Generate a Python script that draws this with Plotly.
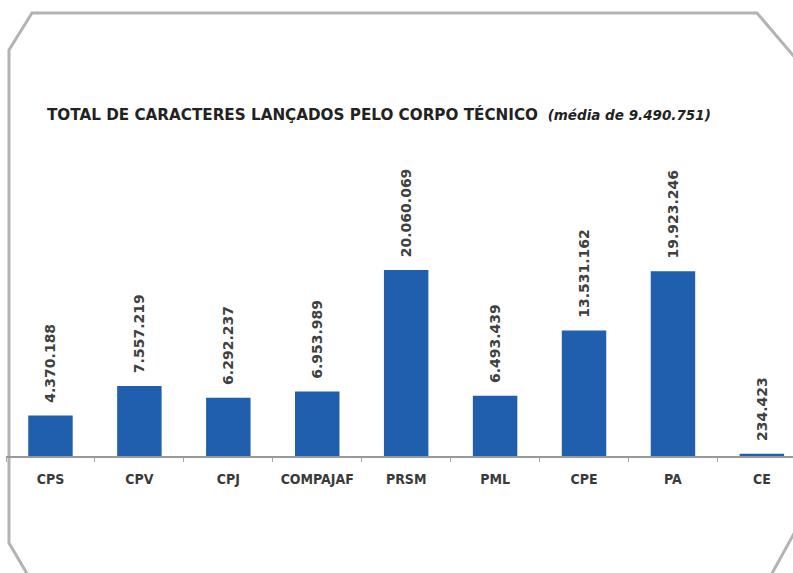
import plotly.graph_objects as go

categories = ["CPS", "CPV", "CPJ", "COMPAJAF", "PRSM", "PML", "CPE", "PA", "CE"]
values = [4370188, 7557219, 6292237, 6953989, 20060069, 6493439, 13531162, 19923246, 234423]
media = 9490751

W, H = 793, 573
ML, MR, MT, MB = 6, 0, 150, 117
PW, PH = W - ML - MR, H - MT - MB


def fmt(v):
    return f"{v:,}".replace(",", ".")


def px(x, y):
    # pixel position -> paper coordinates
    return (x - ML) / PW, (H - MB - y) / PH


fig = go.Figure()
fig.add_trace(go.Bar(
    x=categories, y=values,
    marker=dict(color="#1f5fad", line=dict(width=0)),
    text=["  " + fmt(v) for v in values],
    textposition="outside",
    textangle=-90,
    constraintext="none",
    textfont=dict(family="DejaVu Sans", size=14, color="#404040", weight="bold"),
    cliponaxis=False,
))

# octagonal frame around the chart (right and bottom sides run off the page)
pts = [(32, 13), (757, 13), (797, 60), (797, 528), (770, 577),
       (29, 577), (9, 543), (9, 50)]
path = ""
for i, (x, y) in enumerate(pts):
    a, b = px(x, y)
    path += ("M" if i == 0 else "L") + f"{a:.5f},{b:.5f} "
path += "Z"
fig.add_shape(type="path", path=path, xref="paper", yref="paper",
              line=dict(color="#b3b3b3", width=3), layer="below")

title = ("<b>TOTAL DE CARACTERES LANÇADOS PELO CORPO TÉCNICO</b>  "
         f"<b><i><span style='font-size:13.5px'>(média de {fmt(media)})</span></i></b>")

fig.update_layout(
    width=W, height=H,
    margin=dict(l=ML, r=MR, t=MT, b=MB),
    paper_bgcolor="white", plot_bgcolor="white",
    showlegend=False,
    bargap=0.5,
    title=dict(text=title, x=47 / W, xanchor="left", y=1 - 115 / H, yanchor="middle",
               font=dict(family="DejaVu Sans", size=15.2, color="#222")),
    xaxis=dict(range=[-0.5, 8.35], showline=True, linecolor="#999", linewidth=1.5,
               ticks="outside", tickson="boundaries", ticklen=4, tickcolor="#aaa",
               ticklabelstandoff=9,
               tickfont=dict(family="DejaVu Sans Condensed", size=14, color="#3a3a3a",
                             weight="bold"),
               showgrid=False),
    yaxis=dict(range=[0, PH / 9.274 * 1e6], visible=False, showgrid=False),
)

# the page body has a default 8px margin; drop it so the figure fills the window
fig.write_html("out.html", config={"displayModeBar": False},
               post_script="document.body.style.margin='0';")
